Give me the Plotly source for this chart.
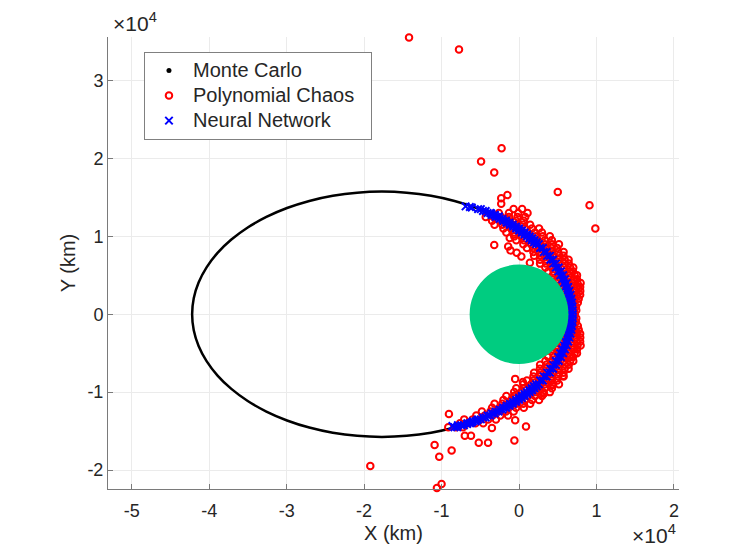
import plotly.graph_objects as go

# ---------------- data (km) ----------------
# Monte Carlo orbit
mc_x = [6800, 6590, 5965, 4935, 3518, 1737, -376, -2785, -5450, -8324, -11359, -14502,
        -17700, -20898, -24041, -27076, -29950, -32615, -35024, -37137, -38918, -40335,
        -41365, -41990, -42200, -41990, -41365, -40335, -38918, -37137, -35024, -32615,
        -29950, -27076, -24041, -20898, -17700, -14502, -11359, -8324, -5450, -2785,
        -376, 1737, 3518, 4935, 5965, 6590, 6800]
mc_y = [0, 2056, 4076, 6027, 7875, 9588, 11137, 12495, 13640, 14551, 15213, 15615,
        15750, 15615, 15213, 14551, 13640, 12495, 11137, 9588, 7875, 6027, 4076, 2056,
        0, -2056, -4076, -6027, -7875, -9588, -11137, -12495, -13640, -14551, -15213,
        -15615, -15750, -15615, -15213, -14551, -13640, -12495, -11137, -9588, -7875,
        -6027, -4076, -2056, 0]

# Polynomial Chaos: dense band rows (y value, x values read along that row)
pc_band_y = [-14500, -14000, -13500, -13000, -12500, -12000, -11500, -11000, -10500,
             -10000, -9500, -9000, -8500, -8000, -7500, -7000, -6500, -6000, -5500,
             -5000, -4500, -4000, -3500, -3000, -2500, -2000, -1500, -1000, -500, 0,
             500, 1000, 1500, 2000, 2500, 3000, 3500, 4000, 4500, 5000, 5500, 6000,
             6500, 7000, 7500, 8000, 8500, 9000, 9500, 10000, 10500, 11000, 11500,
             12000, 12500, 13000, 13500]
pc_band_x = [
    [-9134, -8134, -7234],
    [-7626, -6626, -5626, -4626],
    [-7081, -5981, -4981, -3981, -2981],
    [-5518, -4418, -3418, -2418, -1418],
    [-4795, -3695, -2695, -1695, -695],
    [-3482, -2382, -1382, -382, 618],
    [-3160, -2160, -1260, -360, 540, 1440],
    [-2015, -1015, -115, 785, 1685, 2585],
    [-1639, -639, 261, 1161, 2061, 2961],
    [-622, 378, 1278, 2178, 3078, 3978],
    [-359, 641, 1541, 2441, 3341, 4241],
    [556, 1556, 2456, 3356, 4256, 5156],
    [1026, 1826, 2626, 3426, 4226, 4926],
    [1854, 2654, 3454, 4254, 5054, 5754],
    [1944, 2744, 3544, 4344, 5144, 5744],
    [2697, 3497, 4297, 5097, 5897, 6397],
    [2716, 3516, 4316, 5116, 5916, 6416],
    [3403, 4203, 5003, 5803, 6603, 7003],
    [3758, 4458, 5158, 5858, 6558, 6958],
    [4383, 5083, 5783, 6483, 7183, 7483],
    [4279, 4979, 5679, 6379, 7079, 7479],
    [4847, 5547, 6247, 6947, 7547, 7947],
    [4688, 5388, 6088, 6788, 7488, 7888],
    [5201, 5901, 6601, 7301, 7901],
    [5789, 6389, 6989, 7489, 7889],
    [6102, 6702, 7202, 7702],
    [5989, 6589, 7089, 7589],
    [6351, 6851, 7351],
    [6188, 6688, 7088, 7388],
    [6300, 6800, 7200],
    [6188, 6688, 7088, 7388],
    [6351, 6851, 7351],
    [5989, 6589, 7089, 7589],
    [6102, 6702, 7202, 7702],
    [5789, 6389, 6989, 7489, 7889],
    [5201, 5901, 6601, 7301, 7901],
    [4688, 5388, 6088, 6788, 7488, 7888],
    [4847, 5547, 6247, 6947, 7547, 7947],
    [4279, 4979, 5679, 6379, 7079, 7479],
    [4383, 5083, 5783, 6483, 7183, 7483],
    [3758, 4458, 5158, 5858, 6558, 6958],
    [3403, 4203, 5003, 5803, 6603, 7003],
    [2716, 3516, 4316, 5116, 5916, 6416],
    [2697, 3497, 4297, 5097, 5897, 6397],
    [1944, 2744, 3544, 4344, 5144, 5744],
    [1854, 2654, 3454, 4254, 5054, 5754],
    [1026, 1826, 2626, 3426, 4226, 4926],
    [556, 1556, 2456, 3356, 4256, 5156],
    [-359, 641, 1541, 2441, 3341, 4241],
    [-622, 378, 1278, 2178, 3078, 3978],
    [-1639, -639, 261, 1161, 2061, 2961],
    [-2015, -1015, -115, 785, 1685, 2585],
    [-3160, -2160, -1260, -360, 540, 1440],
    [-3482, -2382, -1382, -382, 618],
    [-4295, -3295, -2295, -1295, -200, 800],
    [-2600, -1300, -100, 1100],
    [-700, 400],
]
# Polynomial Chaos: scattered points
pc_out_x = [-14200, -7750, -2250, -4900, -3200, -1500, -2300, -2300, 5000, 9100, 9850,
            -3200, -1400, -1200, -300, 300, 1400, -1100, -19200, -10600, -10000, -10900,
            -10300, -8700, -9050, -5200, 900, -500, 500, 5700, 4400, 3200, -6200, -7000,
            -3500, -500, -4000, -600]
pc_out_y = [35550, 34000, 21300, 19600, 18200, 15300, 14900, 14200, 15700, 14000, 11000,
            8900, 8700, 9800, 7900, 7400, 6600, 8200, -19500, -22300, -21800, -16800,
            -18300, -17500, -12800, -16500, -14400, -8300, -8700, -7900, -9100, -10200,
            -15600, -15600, -14600, -13600, -16500, -16200]

# Neural Network: rows (y value, x values)
nn_band_y = [-14500, -14250, -14000, -13750, -13500, -13250, -13000, -12750, -12500,
             -12250, -12000, -11750, -11500, -11250, -11000, -10750, -10500, -10250,
             -10000, -9750, -9500, -9250, -9000, -8500, -8000, -7500, -7000, -6500,
             -6000, -5500, -5000, -4500, -4000, -3500, -3000, -2500, -2000, -1500,
             -1000, -500, 0, 500, 1000, 1500, 2000, 2500, 3000, 3500, 4000, 4500, 5000,
             5500, 6000, 6500, 7000, 7500, 8000, 8500, 9000, 9250, 9500, 9750, 10000,
             10250, 10500, 10750, 11000, 11250, 11500, 11750, 12000, 12250, 12500,
             12750, 13000, 13250, 13500]
nn_band_x = [
    [-7984, -8334], [-7115, -7465], [-6326, -6676], [-5602, -5952], [-4931, -5281],
    [-4305, -4655], [-3718, -4068], [-3166, -3516], [-2645, -2995], [-2151, -2501],
    [-1682, -2032], [-1235, -1585], [-810, -1160], [-403, -753], [-15, -365],
    [356, 6], [711, 361], [1052, 702], [1378, 1028], [1691, 1341], [1991, 1641],
    [2280, 1930], [2556, 2206], [3076, 2726], [3554, 3204], [3994, 3644],
    [4397, 4047], [4766, 4416], [5103, 4753], [5408, 5058], [5683, 5333],
    [5929, 5579], [6147, 5797], [6338, 5988], [6501, 6151], [6639, 6289],
    [6752, 6402], [6839, 6489], [6901, 6551], [6938, 6588], [6950, 6600],
    [6938, 6588], [6901, 6551], [6839, 6489], [6752, 6402], [6639, 6289],
    [6501, 6151], [6338, 5988], [6147, 5797], [5929, 5579], [5683, 5333],
    [5408, 5058], [5103, 4753], [4766, 4416], [4397, 4047], [3994, 3644],
    [3554, 3204], [3076, 2726], [2556, 2206], [2280, 1930], [1991, 1641],
    [1691, 1341], [1378, 1028], [1052, 702], [711, 361], [356, 6], [-15, -365],
    [-403, -753], [-810, -1160], [-1235, -1585], [-1682, -2032], [-2151, -2501],
    [-2645, -2995], [-3166, -3516], [-3718, -4068], [-4305, -4655], [-4931, -5281],
]
nn_end_x = [-6900, -6350, -6100, -3600, -3100, -2600, -8600, -7900, -6700, -6100, -5400]
nn_end_y = [13850, 13780, 13700, 12950, 12750, 12550, -14350, -14250, -14100, -13900, -13600]

earth_radius = 6378

x_tick_vals = [-50000, -40000, -30000, -20000, -10000, 0, 10000, 20000]
x_tick_text = ["-5", "-4", "-3", "-2", "-1", "0", "1", "2"]
y_tick_vals = [-20000, -10000, 0, 10000, 20000, 30000]
y_tick_text = ["-2", "-1", "0", "1", "2", "3"]
x_range = [-53060, 20650]
y_range = [-22440, 35600]

series_names = ["Monte Carlo", "Polynomial Chaos", "Neural Network"]

# ---------------- assemble ----------------
pc_x, pc_y = [], []
for yv, xs in zip(pc_band_y, pc_band_x):
    pc_x += xs
    pc_y += [yv] * len(xs)
pc_x += pc_out_x
pc_y += pc_out_y

nn_x, nn_y = [], []
for yv, xs in zip(nn_band_y, nn_band_x):
    nn_x += xs
    nn_y += [yv] * len(xs)
nn_x += nn_end_x
nn_y += nn_end_y

FONT = "Liberation Sans, Arial, Helvetica, sans-serif"
AX = "#7a7a7a"
TXT = "#262626"


def legend_label(name):
    # larger glyphs than the legend's row pitch, plus a little right padding
    return '<span style="font-size:20px">' + name + "\u00a0\u00a0</span>"


fig = go.Figure()
fig.add_trace(go.Scatter(x=mc_x, y=mc_y, mode="lines", line=dict(color="black", width=2.5, shape="spline"),
                         showlegend=False, hoverinfo="skip"))
fig.add_trace(go.Scatter(x=[None], y=[None], mode="markers", name=legend_label(series_names[0]),
                         marker=dict(color="black", size=5)))
fig.add_trace(go.Scatter(x=pc_x, y=pc_y, mode="markers", name=legend_label(series_names[1]),
                         cliponaxis=False,
                         marker=dict(symbol="circle-open", size=6.5, color="red",
                                     line=dict(color="red", width=2))))
fig.add_trace(go.Scatter(x=nn_x, y=nn_y, mode="markers", name=legend_label(series_names[2]),
                         marker=dict(symbol="x-thin", size=7.5, color="blue",
                                     line=dict(color="blue", width=2))))

fig.add_shape(type="circle", xref="x", yref="y", x0=-earth_radius, x1=earth_radius,
              y0=-earth_radius, y1=earth_radius, fillcolor="rgb(0,204,128)",
              line=dict(width=0), layer="above")

axis_common = dict(showgrid=True, gridcolor="#ebebeb", gridwidth=1, showline=True,
                   linecolor=AX, linewidth=1, ticks="inside", ticklen=5, tickcolor=AX,
                   zeroline=False, mirror=False, tickfont=dict(size=18, color=TXT),
                   automargin=False)

fig.update_xaxes(range=x_range, tickvals=x_tick_vals, ticktext=x_tick_text,
                 title=dict(text="X (km)", font=dict(size=20, color=TXT), standoff=6),
                 ticklabelstandoff=5, **axis_common)
fig.update_yaxes(range=y_range, tickvals=y_tick_vals, ticktext=y_tick_text,
                 title=dict(text="Y (km)", font=dict(size=20, color=TXT), standoff=6),
                 **axis_common)

# the page puts the figure 8 px in from the top-left corner
fig.update_layout(
    width=732, height=542,
    margin=dict(l=100, r=61, t=29, b=61),
    paper_bgcolor="white", plot_bgcolor="white",
    font=dict(family=FONT, color=TXT),
    legend=dict(x=0.063, y=0.967, xanchor="left", yanchor="top", bgcolor="white",
                bordercolor="#808080", borderwidth=1, font=dict(size=17, color=TXT),
                itemwidth=38, tracegroupgap=0),
    annotations=[
        dict(text="×10<sup>4</sup>", xref="paper", yref="paper", x=0.006, y=1.0,
             xanchor="left", yanchor="bottom", showarrow=False, font=dict(size=21, color=TXT)),
        dict(text="×10<sup>4</sup>", xref="paper", yref="paper", x=0.998, y=-0.132,
             xanchor="right", yanchor="bottom", showarrow=False, font=dict(size=21, color=TXT)),
    ],
)

fig.write_html("out.html")
